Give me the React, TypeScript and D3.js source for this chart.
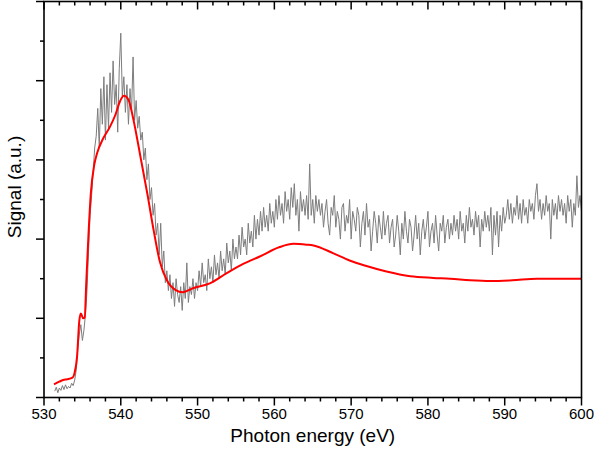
import React from "react";
import * as d3 from "d3";

// ---- data ----
const X_TICKS = [530, 540, 550, 560, 570, 580, 590, 600];
const X_DOMAIN = [530, 600];
const Y_DOMAIN = [0, 5];

// measured spectrum (gray), regular energy grid
const GRAY_START = 531.4;
const GRAY_STEP = 0.2;
const grayPreEdge = [0.08, 0.13, 0.06, 0.12, 0.09, 0.15, 0.10, 0.16, 0.11, 0.14, 0.12, 0.18, 0.15];
const grayEdge = [0.22, 0.35, 0.62, 0.80, 0.92, 0.72, 0.85, 1.05, 1.35, 1.85, 2.3, 2.55, 2.85, 3.15];
const grayPeak = [3.3, 3.65, 3.15, 3.9, 3.45, 4.05, 3.25, 3.95, 3.4, 4.1, 3.6, 4.25, 3.7, 3.95, 3.35, 4.15, 4.6, 3.8, 4.05, 3.6, 3.95, 3.45, 3.9, 3.6, 4.3, 3.5, 3.75, 3.4, 3.55];
const grayFall = [3.25, 3.35, 3.0, 3.15, 2.75, 2.95, 2.5, 2.65, 2.3, 2.45, 2.05, 2.2, 1.8, 2.2, 1.65, 1.85, 1.45, 1.6, 1.35, 1.55, 1.25, 1.45, 1.15, 1.5, 1.3, 1.2, 1.4, 1.1, 1.45, 1.25, 1.7, 1.2, 1.4, 1.3, 1.5, 1.25, 1.45, 1.35];
const grayValley = [1.6, 1.4, 1.7, 1.45, 1.55, 1.35, 1.75, 1.5, 1.65, 1.45, 1.8, 1.55, 1.7, 1.5, 1.85, 1.6, 1.75, 1.55, 1.95, 1.7, 1.85, 1.6, 2.0, 1.75, 1.9];
const grayRise = [1.75, 2.05, 1.8, 2.15, 1.9, 2.0, 1.8, 2.2, 1.95, 2.1, 1.9, 2.3, 2.0, 2.25, 2.05, 2.35, 2.1, 2.4, 2.15, 2.3, 2.1, 2.45, 2.2, 2.35, 2.15];
const grayHump = [2.5, 2.25, 2.55, 2.3, 2.45, 2.2, 2.6, 2.35, 2.5, 2.25, 2.65, 2.4, 2.7, 2.3, 2.5, 2.1, 2.6, 2.35, 2.5, 2.3, 2.55, 2.25, 2.95, 2.3, 2.5, 2.2, 2.55, 2.35, 2.5, 2.3];
const grayTail1 = [2.45, 2.15, 2.35, 2.5, 2.2, 2.05, 2.4, 2.3, 2.55, 2.15, 2.35, 2.25, 2.0, 2.4, 2.45, 2.1, 2.3, 2.2, 2.5, 2.0, 2.35, 2.25, 2.1, 2.4, 2.3, 1.9, 2.2, 2.35, 2.05, 2.45, 2.15, 2.25, 1.85, 2.1, 2.35, 2.2, 1.95, 2.3, 2.15, 2.0, 2.35, 2.05, 2.2, 2.3, 1.95];
const grayTail2 = [2.15, 2.25, 1.9, 2.05, 2.3, 2.1, 1.8, 2.2, 2.0, 2.35, 2.1, 1.95, 2.25, 2.15, 1.85, 2.05, 2.3, 2.0, 2.2, 1.8, 2.1, 2.25, 2.0, 2.15, 2.35, 1.9, 2.1, 2.2, 1.95, 2.3, 2.05, 1.85, 2.2, 2.1, 2.3, 1.95, 2.15, 2.25, 2.0, 2.2];
const grayTail3 = [2.05, 2.3, 2.1, 2.25, 2.0, 2.35, 2.1, 2.2, 1.95, 2.3, 2.1, 2.4, 2.15, 2.25, 2.05, 2.35, 2.15, 2.3, 1.9, 2.25, 2.1, 2.35, 2.15, 2.3, 2.1, 2.4, 1.8, 2.3, 2.05, 2.35, 1.9, 2.3, 2.1, 2.4, 2.2];
const grayTail4 = [2.3, 2.5, 2.25, 2.45, 2.2, 2.4, 2.3, 2.55, 2.25, 2.45, 2.2, 2.5, 2.3, 2.4, 2.2, 2.5, 2.35, 2.45, 2.25, 2.55, 2.7, 2.35, 2.5, 2.25, 2.45, 2.3, 2.55, 2.35, 2.45, 2.0, 2.5, 2.3, 2.45, 2.25, 2.55, 2.35, 2.5, 2.3, 2.45, 2.2, 2.55, 2.35, 2.5, 2.15, 2.45, 2.3, 2.8, 2.4, 2.55, 2.35];

const grayValues = [
  ...grayPreEdge, ...grayEdge, ...grayPeak, ...grayFall, ...grayValley,
  ...grayRise, ...grayHump, ...grayTail1, ...grayTail2, ...grayTail3, ...grayTail4,
];

// simulated / smoothed spectrum (red)
const redEnergy = [531.3, 532.0, 532.5, 533.0, 533.7, 534.0, 534.3, 534.6, 534.8, 535.1, 535.3, 535.5, 535.8, 536.1, 536.55, 536.9, 537.7, 538.6, 539.3, 539.9, 540.4, 541.0, 541.6, 542.6, 543.5, 544.3, 545.1, 546.0, 547.1, 548.1, 549.4, 551.6, 553.8, 556.0, 558.1, 560.7, 562.5, 564.2, 565.1, 567.7, 569.8, 572.0, 574.6, 577.7, 580.7, 582.9, 585.5, 588.1, 591.0, 594.2, 597.0, 600.0];
const redSignal = [0.165, 0.2, 0.22, 0.23, 0.25, 0.32, 0.51, 0.97, 1.06, 1.0, 1.01, 1.44, 2.07, 2.58, 2.94, 3.08, 3.27, 3.42, 3.57, 3.74, 3.81, 3.76, 3.53, 3.02, 2.55, 2.1, 1.71, 1.48, 1.36, 1.33, 1.38, 1.44, 1.57, 1.69, 1.78, 1.9, 1.94, 1.93, 1.92, 1.82, 1.73, 1.66, 1.59, 1.53, 1.51, 1.5, 1.48, 1.47, 1.48, 1.5, 1.5, 1.5];

// ---- layout ----
const W = 598;
const H = 454;
const L = 44;
const R = 581.5;
const T = 1.5;
const B = 397.5;
const FONT = "'Liberation Sans', Arial, Helvetica, sans-serif";

export default function App() {
  const x = d3.scaleLinear().domain(X_DOMAIN).range([L, R]);
  const y = d3.scaleLinear().domain(Y_DOMAIN).range([B, T]);

  const grayPts: [number, number][] = grayValues.map((v, i) => [GRAY_START + i * GRAY_STEP, v]);
  const redPts: [number, number][] = redEnergy.map((e, i) => [e, redSignal[i]]);

  const grayLine = d3.line<[number, number]>().x((d) => x(d[0])).y((d) => y(d[1]));
  const redLine = d3
    .line<[number, number]>()
    .x((d) => x(d[0]))
    .y((d) => y(d[1]))
    .curve(d3.curveMonotoneX);

  const xMinor = d3.range(530, 600.01, 2).filter((v) => v % 10 !== 0);
  const yMajor = d3.range(0, 5.01, 1);
  const yMinor = d3.range(0.5, 5, 1);

  return (
    <svg
      width={W}
      height={H}
      style={{ position: "absolute", left: 0, top: 0, background: "#fff" }}
      fontFamily={FONT}
    >
      <rect x={0} y={0} width={W} height={H} fill="#fff" />
      <defs>
        <clipPath id="plot">
          <rect x={L} y={T} width={R - L} height={B - T} />
        </clipPath>
      </defs>
      <g clipPath="url(#plot)">
        <path d={grayLine(grayPts) || ""} fill="none" stroke="#7d7d7d" strokeWidth={1} />
        <path d={redLine(redPts) || ""} fill="none" stroke="#ff0000" strokeWidth={2} />
      </g>

      {/* frame */}
      <rect x={L} y={T} width={R - L} height={B - T} fill="none" stroke="#000" strokeWidth={1.6} />

      {/* bottom ticks (outward) */}
      {X_TICKS.map((t) => (
        <line key={"bx" + t} x1={x(t)} x2={x(t)} y1={B} y2={B + 8} stroke="#000" strokeWidth={1.5} />
      ))}
      {xMinor.map((t) => (
        <line key={"bm" + t} x1={x(t)} x2={x(t)} y1={B} y2={B + 4} stroke="#000" strokeWidth={1.5} />
      ))}
      {/* top ticks (inward) */}
      {X_TICKS.map((t) => (
        <line key={"tx" + t} x1={x(t)} x2={x(t)} y1={T} y2={T + 8} stroke="#000" strokeWidth={1.5} />
      ))}
      {xMinor.map((t) => (
        <line key={"tm" + t} x1={x(t)} x2={x(t)} y1={T} y2={T + 4} stroke="#000" strokeWidth={1.5} />
      ))}
      {/* left ticks (outward) */}
      {yMajor.map((t) => (
        <line key={"ly" + t} x1={L - 8} x2={L} y1={y(t)} y2={y(t)} stroke="#000" strokeWidth={1.5} />
      ))}
      {yMinor.map((t) => (
        <line key={"lm" + t} x1={L - 4} x2={L} y1={y(t)} y2={y(t)} stroke="#000" strokeWidth={1.5} />
      ))}

      {/* x tick labels */}
      {X_TICKS.map((t) => (
        <text key={"lbl" + t} x={x(t)} y={419} textAnchor="middle" fontSize={15} fill="#000">
          {t}
        </text>
      ))}

      <text x={(L + R) / 2} y={442} textAnchor="middle" fontSize={19} fill="#000">
        Photon energy (eV)
      </text>
      <text
        transform={`translate(21, 187) rotate(-90)`}
        textAnchor="middle"
        fontSize={19}
        fill="#000"
      >
        Signal (a.u.)
      </text>
    </svg>
  );
}
